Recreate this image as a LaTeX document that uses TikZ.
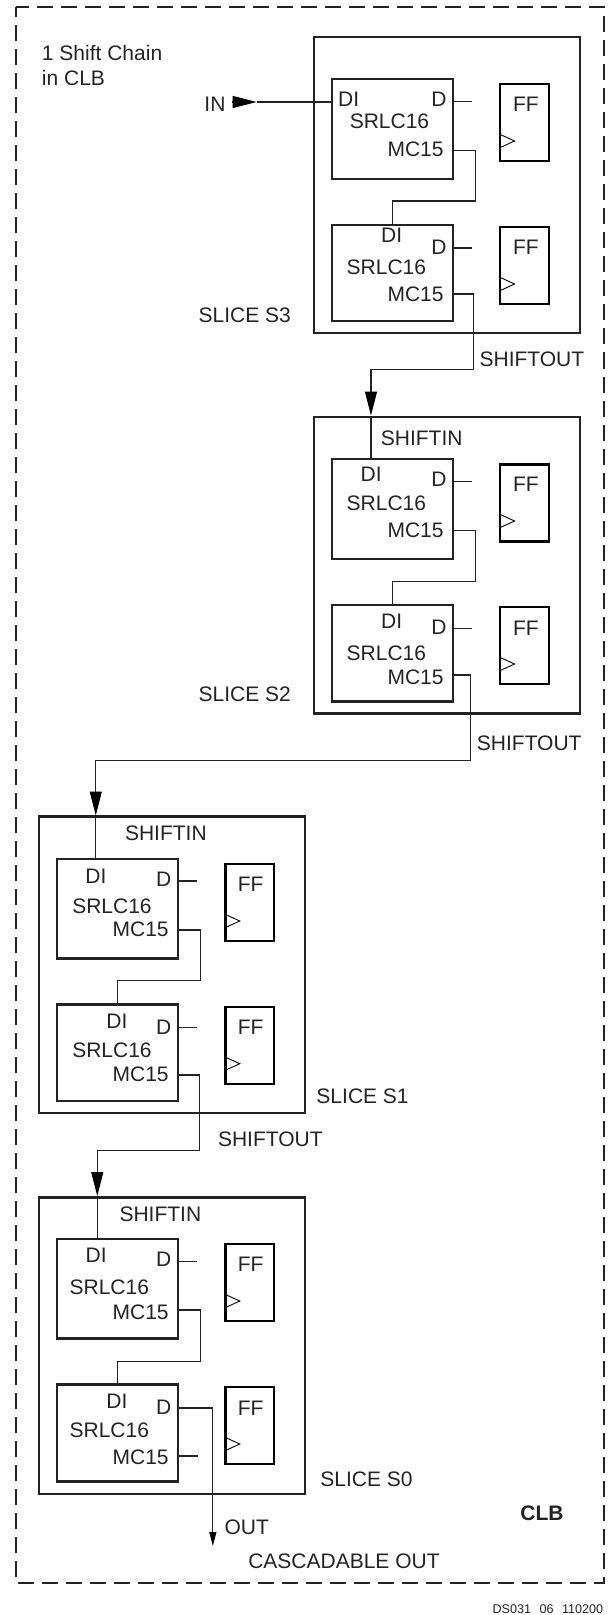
\documentclass[tikz,border=0pt]{standalone}
\usepackage{xcolor}
\usepackage{fontspec}
\setmainfont{Liberation Sans}
\usetikzlibrary{arrows.meta, positioning, calc}
\definecolor{inkgray}{RGB}{35,35,35}

\begin{document}
\begin{tikzpicture}[
    x=0.9946pt, y=-1pt, font=\fontsize{21}{25}\selectfont, text=inkgray,
    clbline/.style={draw=inkgray, line width=2.2pt, dash pattern=on 16pt off 8pt, dash phase=3pt},
    slice/.style={rectangle, draw=inkgray, line width=2.2pt, minimum width=266pt, minimum height=296.5pt, inner sep=0pt},
    srl/.style={rectangle, draw=inkgray, line width=2.2pt, minimum width=121.3pt, minimum height=#1, inner sep=0pt},
    ffbox/.style={rectangle, draw=black, line width=2.2pt, minimum width=48.7pt, minimum height=77pt, inner sep=0pt},
    lbl/.style={anchor=base west, inner sep=0pt},
    lblr/.style={anchor=base east, inner sep=0pt},
    wire/.style={draw=inkgray, line width=1.1pt},
    head/.style={draw=black, line width=1.1pt, -{Triangle[length=24pt,width=12pt]}},
    clk/.style={draw=black, line width=0.9pt}
]
    \useasboundingbox (0,0) rectangle (611.3,1615);

    % CLB outline
    \coordinate (clbnw) at (16,7.3);
    \coordinate (clbse) at (607,1583);
    \draw[clbline] (clbnw) -| (clbse) -| (clbnw);
    \node[lbl, align=left, anchor=north west] (chain) at (42,45) {1 Shift Chain\\in CLB};
    \node[lbl, font=\fontsize{21}{25}\selectfont\bfseries] (clblbl) at (523,1520) {CLB};
    \node[lbl, font=\fontsize{12.6}{15}\selectfont] (dslbl) at (495,1613) {DS031\hspace{8.5pt}06\hspace{8.5pt}110200};

    % Slice S3
    \node[slice] (s3) at (449.5,185) {};
    \node[srl=99.5pt] (srl3a) at (394.8,129) {};
    \node[srl=96pt] (srl3b) at (394.8,273) {};
    \node[ffbox] (ff3a) at (527.5,122.7) {};
    \node[ffbox] (ff3b) at (527.5,265.5) {};
    \node[lbl] (di3a) at (339.8,106) {DI};
    \node[lbl] (d3a) at (433.4,106.7) {D};
    \node[lbl] (name3a) at (351.5,128.3) {SRLC16};
    \node[lblr] (mc3a) at (446.2,156) {MC15};
    \node[lbl] (di3b) at (383,242.7) {DI};
    \node[lbl] (d3b) at (433.4,254) {D};
    \node[lbl] (name3b) at (348.4,274) {SRLC16};
    \node[lblr] (mc3b) at (446.2,301) {MC15};
    \node[lbl] (q3a) at (515.6,111) {FF};
    \node[lbl] (q3b) at (515.6,254) {FF};
    \node[lbl] (s3lbl) at (199.5,322.7) {SLICE S3};
    \node[lbl] (out3) at (482,366.7) {SHIFTOUT};
    \node[lbl] (inlbl) at (205.4,111) {IN};

    % Slice S2
    \node[slice] (s2) at (449.5,565.3) {};
    \node[srl=99.5pt] (srl2a) at (394.8,509) {};
    \node[srl=96.5pt] (srl2b) at (394.8,653.3) {};
    \node[ffbox] (ff2a) at (527.5,503) {};
    \node[ffbox] (ff2b) at (527.5,645.8) {};
    \node[lbl] (in2) at (382.7,445.7) {SHIFTIN};
    \node[lbl] (di2a) at (362.4,481.7) {DI};
    \node[lbl] (d2a) at (433.4,486.7) {D};
    \node[lbl] (name2a) at (348.4,510.7) {SRLC16};
    \node[lblr] (mc2a) at (446.2,537) {MC15};
    \node[lbl] (di2b) at (383,628.7) {DI};
    \node[lbl] (d2b) at (433.4,634) {D};
    \node[lbl] (name2b) at (348.4,660) {SRLC16};
    \node[lblr] (mc2b) at (446.2,684) {MC15};
    \node[lbl] (q2a) at (515.6,491.7) {FF};
    \node[lbl] (q2b) at (515.6,635) {FF};
    \node[lbl] (s2lbl) at (199.5,701.7) {SLICE S2};
    \node[lbl] (out2) at (479.3,750) {SHIFTOUT};

    % Slice S1
    \node[slice] (s1) at (173.2,964.7) {};
    \node[srl=99.5pt] (srl1a) at (118.3,908.7) {};
    \node[srl=96.5pt] (srl1b) at (118.3,1052.7) {};
    \node[ffbox] (ff1a) at (251.2,902.5) {};
    \node[ffbox] (ff1b) at (251.2,1045.3) {};
    \node[lbl] (in1) at (125.5,840.7) {SHIFTIN};
    \node[lbl] (di1a) at (85.7,883.3) {DI};
    \node[lbl] (d1a) at (156.7,886.7) {D};
    \node[lbl] (name1a) at (72.5,913.3) {SRLC16};
    \node[lblr] (mc1a) at (169.8,936) {MC15};
    \node[lbl] (di1b) at (106.8,1028.7) {DI};
    \node[lbl] (d1b) at (156.7,1034) {D};
    \node[lbl] (name1b) at (72.5,1057) {SRLC16};
    \node[lblr] (mc1b) at (169.8,1081) {MC15};
    \node[lbl] (q1a) at (238.9,891) {FF};
    \node[lbl] (q1b) at (238.9,1034) {FF};
    \node[lbl] (s1lbl) at (318,1103.7) {SLICE S1};
    \node[lbl] (out1) at (219,1146.7) {SHIFTOUT};

    % Slice S0
    \node[slice] (s0) at (173.2,1345.7) {};
    \node[srl=99.5pt] (srl0a) at (118.3,1288.8) {};
    \node[srl=97pt] (srl0b) at (118.3,1433) {};
    \node[ffbox] (ff0a) at (251.2,1282.7) {};
    \node[ffbox] (ff0b) at (251.2,1425.8) {};
    \node[lbl] (in0) at (120,1221.7) {SHIFTIN};
    \node[lbl] (di0a) at (86,1262) {DI};
    \node[lbl] (d0a) at (156.7,1266.7) {D};
    \node[lbl] (name0a) at (69.8,1294) {SRLC16};
    \node[lblr] (mc0a) at (169.8,1319) {MC15};
    \node[lbl] (di0b) at (106.8,1408.7) {DI};
    \node[lbl] (d0b) at (156.7,1414) {D};
    \node[lbl] (name0b) at (69.8,1437) {SRLC16};
    \node[lblr] (mc0b) at (169.8,1464) {MC15};
    \node[lbl] (q0a) at (238.9,1271.7) {FF};
    \node[lbl] (q0b) at (238.9,1415) {FF};
    \node[lbl] (s0lbl) at (322,1486.7) {SLICE S0};
    \node[lbl] (outlbl) at (225.6,1534) {OUT};
    \node[lbl] (caslbl) at (249.4,1568.3) {CASCADABLE OUT};

    % Clock marks
    \foreach \ff/\ybase in {ff3a/141, ff3b/284, ff2a/521, ff2b/664, ff1a/921, ff1b/1063.7, ff0a/1301, ff0b/1444} {
        \draw[clk] (\ff.west |- 0,\ybase-7) -- ++(15.5,7) -- ++(-15.5,7);
    }

    % Stubs
    \draw[wire] (srl3a.east |- 0,101.3) -- ++(17.4,0);
    \draw[wire] (srl3b.east |- 0,248) -- ++(17.4,0);
    \draw[wire] (srl2a.east |- 0,481.3) -- ++(17.4,0);
    \draw[wire] (srl2b.east |- 0,628.3) -- ++(17.4,0);
    \draw[wire] (srl1a.east |- 0,881) -- ++(17.4,0);
    \draw[wire] (srl1b.east |- 0,1027.7) -- ++(17.4,0);
    \draw[wire] (srl0a.east |- 0,1261.3) -- ++(17.4,0);
    \draw[wire] (srl0b.east |- 0,1456) -- ++(18.5,0);

    % Inside a slice
    \draw[wire] (srl3a.east |- 0,150.3) -| (477.8,201) -| (srl3b.north);
    \draw[wire] (srl2a.east |- 0,530.3) -| (477.8,581.3) -| (srl2b.north);
    \draw[wire] (srl1a.east |- 0,930) -| (201.9,980.7) -| (srl1b.north);
    \draw[wire] (srl0a.east |- 0,1310) -| (201.9,1361.3) -| (srl0b.north);

    % IN
    \coordinate (instart) at (233,102);
    \coordinate (intip) at (258,102);
    \draw[wire] (intip) -- (srl3a.west |- intip);
    \draw[head] (instart) -- (intip);

    % S3 to S2
    \coordinate (tip2) at (373,415.5);
    \coordinate (turn3) at (475.8,369.3);
    \draw[wire] (srl3b.east |- 0,294) -| (turn3) -| (373,391.5);
    \draw[head] (373,391.5) -- (tip2);
    \draw[wire] (tip2) -- (srl2a.north -| tip2);

    % S2 to S1
    \coordinate (tip1) at (96.3,815.5);
    \coordinate (turn2) at (473.5,760.3);
    \draw[wire] (srl2b.east |- 0,675) -| (turn2) -| (96.3,791.5);
    \draw[head] (96.3,791.5) -- (tip1);
    \draw[wire] (tip1) -- (srl1a.north -| tip1);

    % S1 to S0
    \coordinate (tip0) at (97.8,1196);
    \coordinate (turn1) at (200.7,1150.7);
    \draw[wire] (srl1b.east |- 0,1075) -| (turn1) -| (97.8,1172);
    \draw[head] (97.8,1172) -- (tip0);
    \draw[wire] (tip0) -- (srl0a.north -| tip0);

    % OUT
    \coordinate (outtip) at (214,1546);
    \draw[wire] (srl0b.east |- 0,1408) -| (214,1532);
    \draw[head, -{Triangle[length=14pt,width=7pt]}] (214,1532) -- (outtip);
\end{tikzpicture}
\end{document}
